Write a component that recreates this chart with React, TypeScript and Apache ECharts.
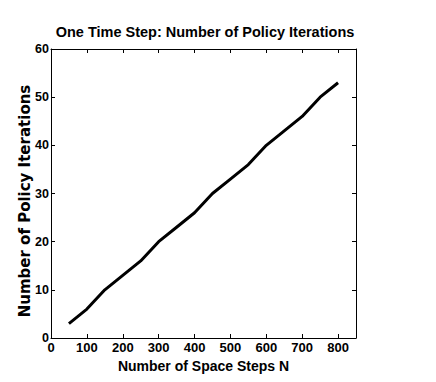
import React, { useEffect, useRef } from "react";
import * as echarts from "echarts";

const spaceSteps = [50, 100, 150, 200, 250, 300, 350, 400, 450, 500, 550, 600, 650, 700, 750, 800];
const iterations = [3, 6, 10, 13, 16, 20, 23, 26, 30, 33, 36, 40, 43, 46, 50, 53];
const titleText = "One Time Step: Number of Policy Iterations";
const xName = "Number of Space Steps N";
const yName = "Number of Policy Iterations";

const FONT = "'Liberation Sans', Arial, sans-serif";
const WIDE_FONT = "'DejaVu Sans', Verdana, sans-serif";

export default function App() {
  const ref = useRef<HTMLDivElement>(null);
  useEffect(() => {
    if (!ref.current) return;
    const chart = echarts.init(ref.current, null, { renderer: "svg" });
    const axisCommon = {
      axisLine: { show: true, onZero: false, lineStyle: { color: "#000", width: 1 } },
      axisTick: { show: true, inside: true, length: 4, lineStyle: { color: "#000" } },
      splitLine: { show: false },
    };
    chart.setOption({
      animation: false,
      backgroundColor: "#fff",
      title: {
        text: titleText,
        left: 200,
        top: 19,
        textAlign: "center",
        textStyle: { fontFamily: FONT, fontWeight: "bold", fontSize: 14.5, color: "#000" },
      },
      graphic: [
        {
          type: "text",
          x: 25,
          y: 201,
          rotation: Math.PI / 2,
          style: {
            text: yName,
            fontFamily: WIDE_FONT,
            fontWeight: "bold",
            fontSize: 15,
            fill: "#000",
            align: "center",
            verticalAlign: "middle",
          },
        },
      ],
      grid: { left: 51, top: 49, width: 305, height: 289, show: false },
      xAxis: [
        {
          type: "value",
          min: 0,
          max: 850,
          interval: 100,
          position: "bottom",
          ...axisCommon,
          axisLabel: {
            fontFamily: FONT,
            fontWeight: "bold",
            fontSize: 13,
            color: "#000",
            margin: 3,
            showMaxLabel: false,
          },
          name: xName,
          nameLocation: "middle",
          nameGap: 21,
          nameTextStyle: { fontFamily: FONT, fontWeight: "bold", fontSize: 14, color: "#000" },
        },
        {
          type: "value",
          min: 0,
          max: 850,
          interval: 100,
          position: "top",
          ...axisCommon,
          axisLabel: { show: false },
        },
      ],
      yAxis: [
        {
          type: "value",
          min: 0,
          max: 60,
          interval: 10,
          position: "left",
          ...axisCommon,
          axisLabel: {
            fontFamily: FONT,
            fontWeight: "bold",
            fontSize: 12.5,
            color: "#000",
            margin: 2,
          },
        },
        {
          type: "value",
          min: 0,
          max: 60,
          interval: 10,
          position: "right",
          ...axisCommon,
          axisLabel: { show: false },
        },
      ],
      series: [
        {
          type: "line",
          data: spaceSteps.map((x, i) => [x, iterations[i]]),
          showSymbol: false,
          lineStyle: { color: "#000", width: 3 },
          xAxisIndex: 0,
          yAxisIndex: 0,
        },
      ],
    });
    return () => chart.dispose();
  }, []);
  return (
    <div
      ref={ref}
      style={{ position: "absolute", left: 0, top: 0, width: 436, height: 382 }}
    />
  );
}
